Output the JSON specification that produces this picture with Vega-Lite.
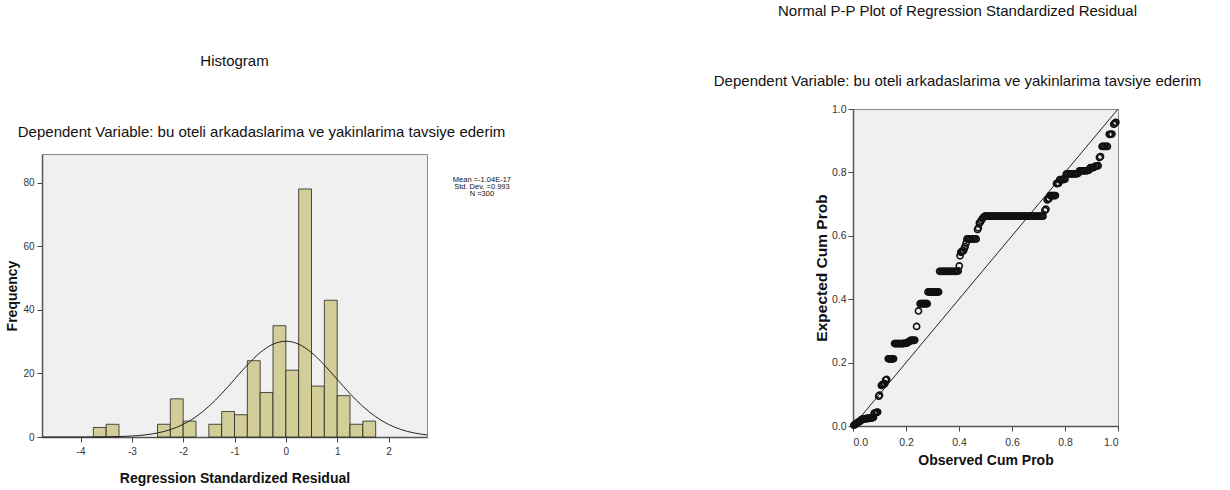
{
  "$schema": "https://vega.github.io/schema/vega-lite/v6.json",
  "background": "white",
  "padding": {"left": 5, "top": 3, "right": 0, "bottom": 0},
  "spacing": 201,
  "config": {
    "font": "Liberation Sans",
    "view": {"fill": "#F0F0F0", "stroke": "#8a8a8a", "strokeWidth": 1},
    "axis": {
      "labelFont": "Liberation Sans", "labelFontSize": 10, "labelColor": "#333333",
      "tickColor": "#444444", "tickSize": 5, "domainColor": "#555555", "domainWidth": 1.5,
      "titleFont": "Liberation Sans", "titleFontSize": 14, "titleFontWeight": "bold", "titleColor": "#111111",
      "grid": false, "labelPadding": 3
    },
    "title": {"font": "Liberation Sans", "fontSize": 15, "fontWeight": "normal", "color": "#111111",
      "subtitleFont": "Liberation Sans", "subtitleFontSize": 15, "subtitleColor": "#111111", "anchor": "middle"}
  },
  "hconcat": [
    {
      "spacing": 14,
      "vconcat": [
        {
          "width": 385,
          "height": 1,
          "view": {"fill": null, "stroke": null},
          "title": {"text": "Histogram", "offset": 40},
          "data": {"values": []},
          "mark": {"type": "point", "opacity": 0}
        },
        {
          "width": 385,
          "height": 283,
          "title": {"text": "Dependent Variable: bu oteli arkadaslarima ve yakinlarima tavsiye ederim", "dx": 27, "offset": 14},
          "layer": [
            {
              "data": {"values": [
                {"b0": -3.75, "b1": -3.5, "n": 3}, {"b0": -3.5, "b1": -3.25, "n": 4},
                {"b0": -2.5, "b1": -2.25, "n": 4}, {"b0": -2.25, "b1": -2.0, "n": 12},
                {"b0": -2.0, "b1": -1.75, "n": 5}, {"b0": -1.5, "b1": -1.25, "n": 4},
                {"b0": -1.25, "b1": -1.0, "n": 8}, {"b0": -1.0, "b1": -0.75, "n": 7},
                {"b0": -0.75, "b1": -0.5, "n": 24}, {"b0": -0.5, "b1": -0.25, "n": 14},
                {"b0": -0.25, "b1": 0.0, "n": 35}, {"b0": 0.0, "b1": 0.25, "n": 21},
                {"b0": 0.25, "b1": 0.5, "n": 78}, {"b0": 0.5, "b1": 0.75, "n": 16},
                {"b0": 0.75, "b1": 1.0, "n": 43}, {"b0": 1.0, "b1": 1.25, "n": 13},
                {"b0": 1.25, "b1": 1.5, "n": 4}, {"b0": 1.5, "b1": 1.75, "n": 5}
              ]},
              "mark": {"type": "rect", "fill": "#D3CE97", "stroke": "#222222", "strokeWidth": 0.8},
              "encoding": {
                "x": {"field": "b0", "type": "quantitative",
                  "scale": {"domain": [-4.75, 2.75], "nice": false, "zero": false},
                  "axis": {"values": [-4, -3, -2, -1, 0, 1, 2], "labelExpr": "'' + datum.value", "titlePadding": 15, "labelPadding": 4},
                  "title": "Regression Standardized Residual"},
                "x2": {"field": "b1"},
                "y": {"field": "n", "type": "quantitative",
                  "scale": {"domain": [0, 89], "nice": false},
                  "axis": {"values": [0, 20, 40, 60, 80], "titlePadding": 3},
                  "title": "Frequency"},
                "y2": {"datum": 0}
              }
            },
            {
              "data": {"values": [
                {"x": -4.75, "f": 0.0}, {"x": -4.5, "f": 0.001}, {"x": -4.25, "f": 0.003}, {"x": -4.0, "f": 0.009},
                {"x": -3.75, "f": 0.024}, {"x": -3.5, "f": 0.06}, {"x": -3.25, "f": 0.14}, {"x": -3.0, "f": 0.31},
                {"x": -2.75, "f": 0.65}, {"x": -2.5, "f": 1.27}, {"x": -2.25, "f": 2.31}, {"x": -2.0, "f": 3.97},
                {"x": -1.75, "f": 6.38}, {"x": -1.5, "f": 9.63}, {"x": -1.25, "f": 13.64}, {"x": -1.0, "f": 18.14},
                {"x": -0.75, "f": 22.65}, {"x": -0.5, "f": 26.54}, {"x": -0.25, "f": 29.19}, {"x": 0.0, "f": 30.13},
                {"x": 0.25, "f": 29.19}, {"x": 0.5, "f": 26.54}, {"x": 0.75, "f": 22.65}, {"x": 1.0, "f": 18.14},
                {"x": 1.25, "f": 13.64}, {"x": 1.5, "f": 9.63}, {"x": 1.75, "f": 6.38}, {"x": 2.0, "f": 3.97},
                {"x": 2.25, "f": 2.31}, {"x": 2.5, "f": 1.27}, {"x": 2.75, "f": 0.65}
              ]},
              "mark": {"type": "line", "color": "#222222", "strokeWidth": 1, "interpolate": "monotone"},
              "encoding": {
                "x": {"field": "x", "type": "quantitative"},
                "y": {"field": "f", "type": "quantitative"}
              }
            },
            {
              "data": {"values": [{"t": "Mean =-1.04E-17\nStd. Dev. =0.993\nN =300"}]},
              "mark": {"type": "text", "lineBreak": "\n", "fontSize": 7.5, "lineHeight": 7, "baseline": "top", "align": "center", "color": "#111111", "font": "Liberation Sans"},
              "encoding": {
                "x": {"datum": 3.82},
                "y": {"datum": 82},
                "text": {"field": "t"}
              }
            }
          ]
        }
      ]
    },
    {
      "width": 265,
      "height": 317,
      "title": {"text": "Normal P-P Plot of Regression Standardized Residual",
        "subtitle": "Dependent Variable: bu oteli arkadaslarima ve yakinlarima tavsiye ederim",
        "dx": -28, "offset": 15, "subtitlePadding": 55},
      "layer": [
        {
          "data": {"values": [{"o": 0, "e": 0}, {"o": 1, "e": 1}]},
          "mark": {"type": "line", "color": "#222222", "strokeWidth": 1},
          "encoding": {
            "x": {"field": "o", "type": "quantitative", "scale": {"domain": [0, 1], "nice": false},
              "axis": {"values": [0, 0.2, 0.4, 0.6, 0.8, 1], "format": ".1f", "titlePadding": 6, "labelPadding": 6, "labelFontSize": 10.5},
              "title": "Observed Cum Prob"},
            "y": {"field": "e", "type": "quantitative", "scale": {"domain": [0, 1], "nice": false},
              "axis": {"values": [0, 0.2, 0.4, 0.6, 0.8, 1], "format": ".1f", "titlePadding": 2, "labelPadding": 2, "labelFontSize": 10.5, "titleFontSize": 15.5},
              "title": "Expected Cum Prob"}
          }
        },
        {
          "data": {"values": [
            {"o":0.003,"e":0.002},{"o":0.007,"e":0.004},{"o":0.01,"e":0.006},{"o":0.013,"e":0.008},{"o":0.017,"e":0.01},{"o":0.02,"e":0.012},{"o":0.023,"e":0.014},{"o":0.027,"e":0.015},{"o":0.03,"e":0.017},
            {"o":0.033,"e":0.021},{"o":0.037,"e":0.022},{"o":0.04,"e":0.022},{"o":0.043,"e":0.022},{"o":0.047,"e":0.023},{"o":0.05,"e":0.023},{"o":0.053,"e":0.024},{"o":0.057,"e":0.024},{"o":0.06,"e":0.024},{"o":0.063,"e":0.025},{"o":0.067,"e":0.025},{"o":0.07,"e":0.025},{"o":0.073,"e":0.026},{"o":0.077,"e":0.027},
            {"o":0.08,"e":0.04},{"o":0.083,"e":0.041},{"o":0.087,"e":0.042},{"o":0.09,"e":0.043},{"o":0.093,"e":0.044},
            {"o":0.097,"e":0.094},{"o":0.1,"e":0.097},
            {"o":0.107,"e":0.128},{"o":0.11,"e":0.13},{"o":0.113,"e":0.131},{"o":0.117,"e":0.132},{"o":0.12,"e":0.134},
            {"o":0.123,"e":0.145},{"o":0.127,"e":0.147},
            {"o":0.133,"e":0.212},{"o":0.137,"e":0.212},{"o":0.14,"e":0.212},{"o":0.143,"e":0.212},{"o":0.147,"e":0.212},{"o":0.15,"e":0.212},{"o":0.153,"e":0.212},
            {"o":0.157,"e":0.26},{"o":0.16,"e":0.26},{"o":0.163,"e":0.26},{"o":0.167,"e":0.26},{"o":0.17,"e":0.26},{"o":0.173,"e":0.26},{"o":0.177,"e":0.26},{"o":0.18,"e":0.26},{"o":0.183,"e":0.26},{"o":0.187,"e":0.26},{"o":0.19,"e":0.26},{"o":0.193,"e":0.261},{"o":0.197,"e":0.261},{"o":0.2,"e":0.261},{"o":0.203,"e":0.262},
            {"o":0.207,"e":0.263},{"o":0.21,"e":0.265},{"o":0.213,"e":0.268},
            {"o":0.217,"e":0.27},{"o":0.22,"e":0.27},{"o":0.223,"e":0.27},{"o":0.227,"e":0.27},{"o":0.23,"e":0.27},{"o":0.233,"e":0.271},
            {"o":0.24,"e":0.314},
            {"o":0.247,"e":0.363},
            {"o":0.253,"e":0.386},{"o":0.257,"e":0.386},{"o":0.26,"e":0.386},{"o":0.263,"e":0.386},{"o":0.267,"e":0.386},{"o":0.27,"e":0.386},{"o":0.273,"e":0.386},{"o":0.277,"e":0.386},{"o":0.28,"e":0.386},
            {"o":0.283,"e":0.423},{"o":0.287,"e":0.423},{"o":0.29,"e":0.423},{"o":0.293,"e":0.423},{"o":0.297,"e":0.423},{"o":0.3,"e":0.423},{"o":0.303,"e":0.423},{"o":0.307,"e":0.423},{"o":0.31,"e":0.423},{"o":0.313,"e":0.423},{"o":0.317,"e":0.423},{"o":0.32,"e":0.423},{"o":0.323,"e":0.423},
            {"o":0.327,"e":0.488},{"o":0.332,"e":0.488},{"o":0.337,"e":0.488},{"o":0.342,"e":0.488},{"o":0.347,"e":0.488},{"o":0.352,"e":0.488},{"o":0.357,"e":0.488},{"o":0.362,"e":0.488},{"o":0.367,"e":0.488},{"o":0.372,"e":0.488},{"o":0.377,"e":0.488},{"o":0.382,"e":0.488},{"o":0.387,"e":0.488},{"o":0.392,"e":0.488},{"o":0.397,"e":0.489},
            {"o":0.401,"e":0.505},{"o":0.404,"e":0.537},
            {"o":0.407,"e":0.548},{"o":0.41,"e":0.55},{"o":0.413,"e":0.552},{"o":0.417,"e":0.553},
            {"o":0.42,"e":0.56},{"o":0.423,"e":0.566},{"o":0.427,"e":0.577},
            {"o":0.43,"e":0.59},{"o":0.435,"e":0.59},{"o":0.44,"e":0.59},{"o":0.445,"e":0.59},{"o":0.45,"e":0.59},{"o":0.455,"e":0.59},{"o":0.46,"e":0.59},{"o":0.465,"e":0.59},
            {"o":0.47,"e":0.62},{"o":0.473,"e":0.625},
            {"o":0.477,"e":0.64},{"o":0.48,"e":0.643},{"o":0.484,"e":0.648},{"o":0.488,"e":0.654},{"o":0.492,"e":0.658},
            {"o":0.497,"e":0.662},{"o":0.502,"e":0.662},{"o":0.507,"e":0.662},{"o":0.512,"e":0.662},{"o":0.517,"e":0.662},{"o":0.522,"e":0.662},{"o":0.527,"e":0.662},{"o":0.532,"e":0.662},{"o":0.537,"e":0.662},{"o":0.542,"e":0.662},{"o":0.547,"e":0.662},{"o":0.552,"e":0.662},{"o":0.557,"e":0.662},{"o":0.562,"e":0.662},{"o":0.567,"e":0.662},{"o":0.572,"e":0.662},{"o":0.577,"e":0.662},{"o":0.582,"e":0.662},{"o":0.587,"e":0.662},{"o":0.592,"e":0.662},{"o":0.597,"e":0.662},{"o":0.602,"e":0.662},{"o":0.607,"e":0.662},{"o":0.612,"e":0.662},{"o":0.617,"e":0.662},{"o":0.622,"e":0.662},{"o":0.627,"e":0.662},{"o":0.632,"e":0.662},{"o":0.637,"e":0.662},{"o":0.642,"e":0.662},{"o":0.647,"e":0.662},{"o":0.652,"e":0.662},{"o":0.657,"e":0.662},{"o":0.662,"e":0.662},{"o":0.667,"e":0.662},{"o":0.672,"e":0.662},{"o":0.677,"e":0.662},{"o":0.682,"e":0.662},{"o":0.687,"e":0.662},{"o":0.692,"e":0.662},{"o":0.697,"e":0.662},{"o":0.702,"e":0.662},{"o":0.707,"e":0.662},{"o":0.712,"e":0.662},{"o":0.717,"e":0.662},
            {"o":0.724,"e":0.68},{"o":0.728,"e":0.684},
            {"o":0.733,"e":0.713},{"o":0.737,"e":0.716},{"o":0.74,"e":0.718},
            {"o":0.744,"e":0.727},{"o":0.748,"e":0.727},{"o":0.752,"e":0.727},{"o":0.756,"e":0.727},{"o":0.76,"e":0.727},{"o":0.764,"e":0.727},
            {"o":0.768,"e":0.765},{"o":0.772,"e":0.765},{"o":0.776,"e":0.766},
            {"o":0.78,"e":0.777},{"o":0.784,"e":0.777},{"o":0.788,"e":0.777},{"o":0.792,"e":0.777},{"o":0.796,"e":0.778},{"o":0.8,"e":0.778},
            {"o":0.805,"e":0.795},{"o":0.81,"e":0.795},{"o":0.815,"e":0.795},{"o":0.82,"e":0.795},{"o":0.825,"e":0.795},{"o":0.83,"e":0.795},{"o":0.835,"e":0.795},{"o":0.84,"e":0.795},{"o":0.845,"e":0.796},{"o":0.85,"e":0.797},
            {"o":0.855,"e":0.805},{"o":0.86,"e":0.805},{"o":0.865,"e":0.805},{"o":0.87,"e":0.805},{"o":0.875,"e":0.805},{"o":0.88,"e":0.805},{"o":0.885,"e":0.806},{"o":0.89,"e":0.807},
            {"o":0.895,"e":0.815},{"o":0.9,"e":0.815},{"o":0.905,"e":0.815},{"o":0.91,"e":0.816},
            {"o":0.915,"e":0.82},{"o":0.92,"e":0.82},{"o":0.925,"e":0.821},
            {"o":0.93,"e":0.847},{"o":0.934,"e":0.85},
            {"o":0.94,"e":0.882},{"o":0.945,"e":0.882},{"o":0.95,"e":0.882},{"o":0.955,"e":0.882},{"o":0.96,"e":0.882},
            {"o":0.967,"e":0.92},{"o":0.972,"e":0.92},{"o":0.977,"e":0.921},
            {"o":0.984,"e":0.952},{"o":0.988,"e":0.955},{"o":0.992,"e":0.958}
          ]},
          "mark": {"type": "point", "shape": "circle", "filled": false, "stroke": "#111111", "strokeWidth": 1.6, "size": 38, "opacity": 1},
          "encoding": {
            "x": {"field": "o", "type": "quantitative"},
            "y": {"field": "e", "type": "quantitative"}
          }
        }
      ]
    }
  ]
}
